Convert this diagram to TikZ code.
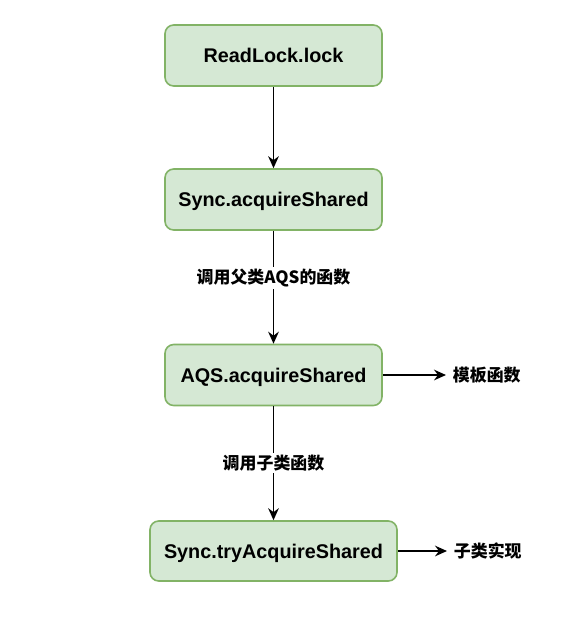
\documentclass[tikz,border=0pt]{standalone}
\usepackage{fontspec}
\setmainfont{Liberation Sans}
\newfontfamily\cjk{Noto Sans CJK SC}
\usetikzlibrary{arrows.meta}
\definecolor{boxfill}{HTML}{D5E8D4}
\definecolor{boxdraw}{HTML}{82B366}
\begin{document}
\begin{tikzpicture}[x=0.75pt,y=-0.75pt,
  box/.style={draw=boxdraw, fill=boxfill, line width=1.2pt, rounded corners=6.5pt,
    minimum width=162.75pt, minimum height=45.75pt, inner sep=0pt, text depth=0pt,
    font=\fontsize{14.85}{17}\selectfont\bfseries},
  arr/.style={-{Stealth[length=9pt,width=8pt,inset=3pt]}, line width=1.3pt, black},
  lbl/.style={fill=white, inner sep=1.5pt, font=\fontsize{12.7}{15}\selectfont\cjk\bfseries},
  side/.style={anchor=west, inner sep=5pt, font=\fontsize{12.7}{15}\selectfont\cjk\bfseries}
]
\useasboundingbox (0,0) rectangle (581,629);
\node[box] (a) at (273.5,55.5) {ReadLock.lock};
\node[box] (b) at (273.5,199.5) {Sync.acquireShared};
\node[box] (c) at (273.5,375) {AQS.acquireShared};
\node[box, minimum width=185.25pt, minimum height=45pt] (d) at (273.5,551) {Sync.tryAcquireShared};
\node[side] (t1) at (446,375) {模板函数};
\node[side] (t2) at (447,551) {子类实现};
\draw[arr] (a) -- (b);
\draw[arr] (b) -- node[lbl, pos=0.42] {调用父类AQS的函数} (c);
\draw[arr] (c) -- node[lbl, pos=0.5] {调用子类函数} (d);
\draw[arr] (c.east) -- (t1.west);
\draw[arr] (d.east) -- (t2.west);
\end{tikzpicture}
\end{document}
